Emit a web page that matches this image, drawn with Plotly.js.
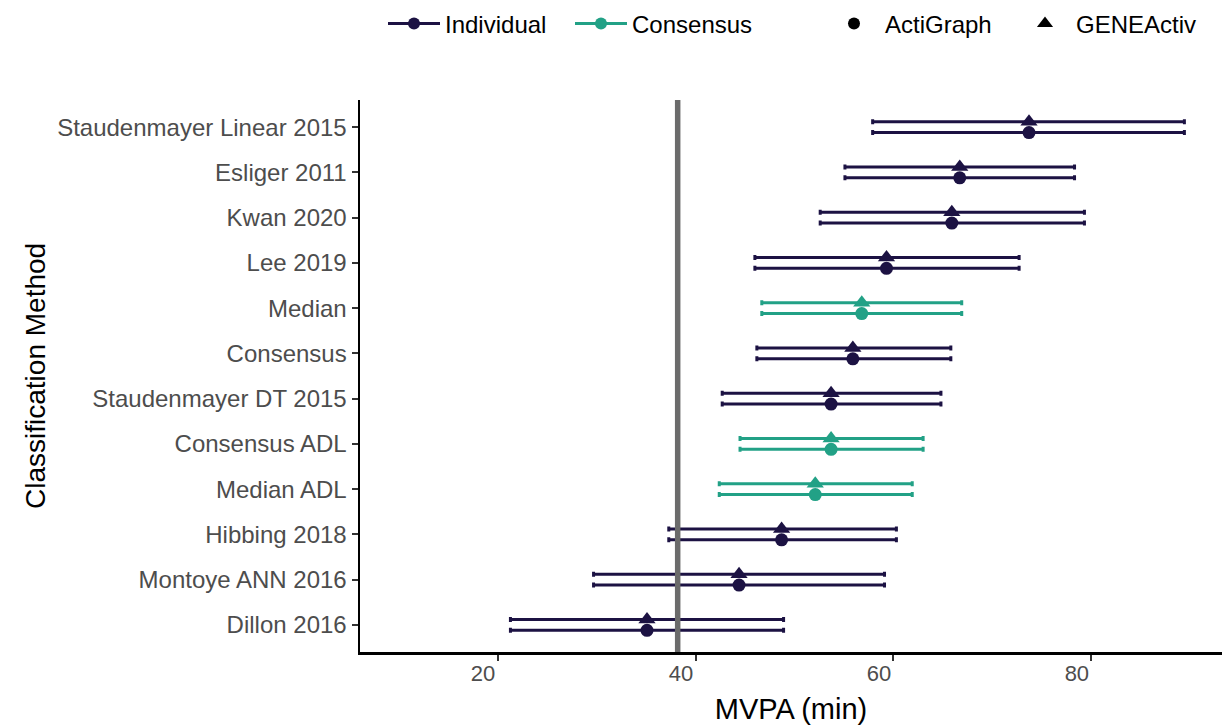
<!DOCTYPE html>
<html>
<head>
<meta charset="utf-8">
<script src="https://cdn.plot.ly/plotly-3.0.1.min.js"></script>
<style>
  html, body { margin: 0; padding: 0; background: #ffffff; }
  #chart { width: 1225px; height: 725px; }
</style>
</head>
<body>
<div id="chart"></div>
<script>
// ---- Data (top to bottom as shown) ----
const methods = ["Staudenmayer Linear 2015", "Esliger 2011", "Kwan 2020", "Lee 2019", "Median",
  "Consensus", "Staudenmayer DT 2015", "Consensus ADL", "Median ADL", "Hibbing 2018",
  "Montoye ANN 2016", "Dillon 2016"];
const methodType = ["Individual", "Individual", "Individual", "Individual", "Consensus",
  "Individual", "Individual", "Consensus", "Consensus", "Individual", "Individual", "Individual"];

const actigraphMean = [73.7, 66.7, 65.9, 59.3, 56.8, 55.9, 53.7, 53.7, 52.1, 48.7, 44.4, 35.1];
const actigraphLow  = [57.9, 55.1, 52.6, 46.0, 46.7, 46.2, 42.7, 44.5, 42.4, 37.3, 29.7, 21.3];
const actigraphHigh = [89.4, 78.3, 79.3, 72.7, 66.9, 65.8, 64.8, 63.0, 61.9, 60.3, 59.1, 48.9];

const geneactivMean = [73.7, 66.7, 65.9, 59.3, 56.8, 55.9, 53.7, 53.7, 52.1, 48.7, 44.4, 35.1];
const geneactivLow  = [57.9, 55.1, 52.6, 46.0, 46.7, 46.2, 42.7, 44.5, 42.4, 37.3, 29.7, 21.3];
const geneactivHigh = [89.4, 78.3, 79.3, 72.7, 66.9, 65.8, 64.8, 63.0, 61.9, 60.3, 59.1, 48.9];

const referenceMVPA = 38.2;
const xTicks = [20, 40, 60, 80];

// ---- Styles ----
const typeColors = { "Individual": "#1C1243", "Consensus": "#22A186" };
const FONT = "Liberation Sans, Arial, sans-serif";
const n = methods.length;
const yPos = methods.map((m, i) => n - i);
const dodge = 0.12;

function makeTrace(type, device, mean, low, high, symbol, offset, size) {
  const idx = methods.map((m, i) => i).filter(i => methodType[i] === type);
  return {
    type: "scatter",
    mode: "markers",
    x: idx.map(i => mean[i]),
    y: idx.map(i => yPos[i] + offset),
    text: idx.map(i => methods[i]),
    name: type + " " + device,
    showlegend: false,
    marker: { color: typeColors[type], symbol: symbol, size: size, line: { width: 0 } },
    error_x: {
      type: "data", symmetric: false,
      array: idx.map(i => high[i] - mean[i]),
      arrayminus: idx.map(i => mean[i] - low[i]),
      color: typeColors[type], thickness: 3, width: 2.5
    },
    hovertemplate: "%{text}<br>%{x}<extra>" + device + "</extra>"
  };
}

const traces = [];
["Individual", "Consensus"].forEach(t => {
  traces.push(makeTrace(t, "GENEActiv", geneactivMean, geneactivLow, geneactivHigh, "triangle-up", dodge, 15));
  traces.push(makeTrace(t, "ActiGraph", actigraphMean, actigraphLow, actigraphHigh, "circle", -dodge, 13));
});

// legend-only entries
["Individual", "Consensus"].forEach(t => {
  traces.push({
    type: "scatter", mode: "lines+markers", x: [null], y: [null], name: t,
    line: { color: typeColors[t], width: 3 },
    marker: { color: typeColors[t], symbol: "circle", size: 12 },
    legend: "legend", showlegend: true
  });
});
traces.push({
  type: "scatter", mode: "markers", x: [null], y: [null], name: "ActiGraph",
  marker: { color: "#000000", symbol: "circle", size: 12 }, legend: "legend2", showlegend: true
});
traces.push({
  type: "scatter", mode: "markers", x: [null], y: [null], name: "GENEActiv",
  marker: { color: "#000000", symbol: "triangle-up", size: 14 }, legend: "legend2", showlegend: true
});

const layout = {
  width: 1225, height: 725,
  paper_bgcolor: "#ffffff", plot_bgcolor: "#ffffff",
  font: { family: FONT, color: "#000000" },
  margin: { l: 360, r: 3, t: 100, b: 73 },
  xaxis: {
    range: [6.1, 93.2],
    tickvals: xTicks,
    ticktext: xTicks.map(String),
    ticks: "outside", ticklen: 6, tickwidth: 2, tickcolor: "#333333",
    ticklabelposition: "outside left",
    tickfont: { size: 22, color: "#4D4D4D", family: FONT },
    showgrid: false, zeroline: false,
    showline: true, linecolor: "#000000", linewidth: 2.5,
    title: { text: "MVPA (min)", font: { size: 29, color: "#000000", family: FONT }, standoff: 14 },
    fixedrange: true
  },
  yaxis: {
    range: [0.4, 12.6],
    tickvals: yPos,
    ticktext: methods,
    ticks: "outside", ticklen: 6, tickwidth: 2, tickcolor: "#333333",
    tickfont: { size: 24, color: "#4D4D4D", family: FONT },
    showgrid: false, zeroline: false,
    showline: true, linecolor: "#000000", linewidth: 2.5,
    fixedrange: true
  },
  annotations: [{
    text: "Classification Method", xref: "paper", yref: "paper",
    x: (35 - 360) / 862, y: 0.5, xanchor: "center", yanchor: "middle",
    textangle: -90, showarrow: false,
    font: { size: 28, color: "#000000", family: FONT }
  }],
  shapes: [{
    type: "line", xref: "x", yref: "paper",
    x0: referenceMVPA, x1: referenceMVPA, y0: 0, y1: 1,
    line: { color: "#6B6B6B", width: 5.5 }, layer: "above"
  }],
  legend: {
    orientation: "h", xref: "container", yref: "container",
    x: 383 / 1225, y: 1 - 24 / 725, xanchor: "left", yanchor: "middle",
    font: { size: 24, family: FONT, color: "#000000" },
    bgcolor: "rgba(0,0,0,0)", itemwidth: 52, entrywidth: 120
  },
  legend2: {
    orientation: "h", xref: "container", yref: "container",
    x: 823 / 1225, y: 1 - 24 / 725, xanchor: "left", yanchor: "middle",
    font: { size: 24, family: FONT, color: "#000000" },
    bgcolor: "rgba(0,0,0,0)", itemwidth: 52, entrywidth: 124
  },
  showlegend: true
};

Plotly.newPlot("chart", traces, layout, { displayModeBar: false, staticPlot: true });
</script>
</body>
</html>
